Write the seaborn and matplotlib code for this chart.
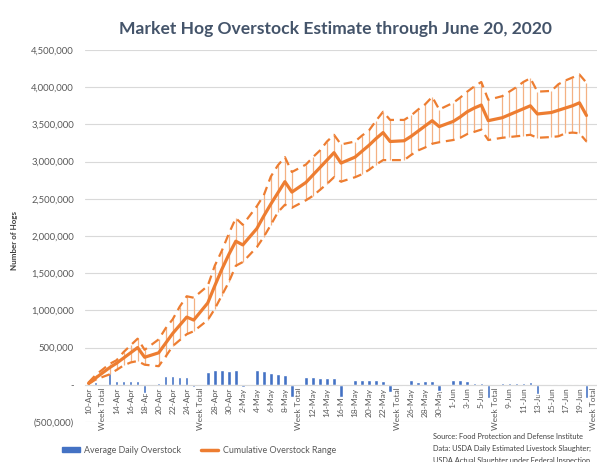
import numpy as np
import pandas as pd
import seaborn as sns
import matplotlib.pyplot as plt
from matplotlib.lines import Line2D
from matplotlib.patches import Patch
from matplotlib.ticker import FuncFormatter, MultipleLocator

nan = np.nan

categories = ["10-Apr", "11-Apr", "Week Total", "13-Apr", "14-Apr", "15-Apr", "16-Apr", "17-Apr", "18-Apr",
              "Week Total", "20-Apr", "21-Apr", "22-Apr", "23-Apr", "24-Apr", "25-Apr",
              "Week Total", "27-Apr", "28-Apr", "29-Apr", "30-Apr", "1-May", "2-May",
              "Week Total", "4-May", "5-May", "6-May", "7-May", "8-May", "9-May",
              "Week Total", "11-May", "12-May", "13-May", "14-May", "15-May", "16-May",
              "Week Total", "18-May", "19-May", "20-May", "21-May", "22-May", "23-May",
              "Week Total", "25-May", "26-May", "27-May", "28-May", "29-May", "30-May",
              "Week Total", "1-Jun", "2-Jun", "3-Jun", "4-Jun", "5-Jun", "6-Jun",
              "Week Total", "8-Jun", "9-Jun", "10-Jun", "11-Jun", "12-Jun", "13-Jun",
              "Week Total", "15-Jun", "16-Jun", "17-Jun", "18-Jun", "19-Jun", "20-Jun",
              "Week Total"]

# thousands of hogs, nan = week total rows (no line point)
cumulative = [20, 90, nan, 230, 290, 360, 430, 500, 370, nan, 430, 560, 690, 800, 910, 870, nan,
              1100, 1330, 1550, 1750, 1930, 1880, nan, 2100, 2270, 2430, 2580, 2730, 2590, nan,
              2720, 2820, 2920, 3020, 3120, 2980, nan, 3060, 3140, 3220, 3310, 3390, 3270, nan,
              3280, 3340, 3410, 3480, 3550, 3470, nan, 3540, 3600, 3670, 3720, 3760, 3550, nan,
              3590, 3630, 3670, 3710, 3750, 3640, nan, 3660, 3690, 3720, 3750, 3790, 3620, nan]

upper = [30, 130, nan, 280, 330, 440, 530, 620, 470, nan, 610, 760, 880, 1050, 1190, 1170, nan,
         1330, 1600, 1800, 2030, 2240, 2150, nan, 2400, 2550, 2800, 2950, 3060, 2860, nan,
         2960, 3060, 3150, 3270, 3360, 3230, nan, 3270, 3350, 3420, 3550, 3670, 3560, nan,
         3560, 3620, 3700, 3770, 3870, 3700, nan, 3790, 3860, 3940, 4010, 4070, 3830, nan,
         3880, 3940, 4000, 4070, 4120, 3940, nan, 3950, 4040, 4090, 4130, 4170, 4060, nan]

lower = [10, 70, nan, 140, 200, 260, 300, 320, 270, nan, 250, 380, 520, 600, 680, 720, nan,
         870, 1020, 1200, 1380, 1600, 1650, nan, 1850, 1990, 2150, 2320, 2420, 2380, nan,
         2480, 2540, 2620, 2700, 2790, 2730, nan, 2790, 2830, 2890, 2960, 3020, 3020, nan,
         3020, 3090, 3150, 3190, 3240, 3260, nan, 3290, 3320, 3370, 3400, 3430, 3290, nan,
         3320, 3330, 3340, 3350, 3360, 3320, nan, 3330, 3340, 3380, 3390, 3380, 3270, nan]

daily_avg = [20, 40, nan, 155, 45, 45, 45, 55, -110, nan, 30, 120, 120, 110, 110, -35, nan,
             170, 200, 205, 190, 200, -35, nan, 200, 190, 160, 150, 135, -170, nan,
             105, 105, 90, 90, 90, -160, nan, 70, 70, 70, 70, 55, -95, nan,
             -10, 70, 35, 45, 55, -90, nan, 65, 65, 45, 25, 25, -180, nan,
             25, 25, 25, 25, 40, -130, nan, 15, 15, 15, 15, 15, -180, nan]

blue = "#4472C4"
orange = "#ED7D31"
grey = "#595959"

df = pd.DataFrame({"pos": np.arange(len(categories)), "label": categories,
                   "cumulative": np.array(cumulative) * 1000, "upper": np.array(upper) * 1000,
                   "lower": np.array(lower) * 1000, "daily": np.array(daily_avg) * 1000})
days = df.dropna(subset=["cumulative"])

sns.set_theme(style="white")
plt.rcParams["font.family"] = ["Lato", "DejaVu Sans"]

fig = plt.figure(figsize=(5.97, 4.62), dpi=100)
ax = fig.add_axes([0.1424, 0.0866, 0.8576, 0.8052])

sns.barplot(data=days, x="pos", y="daily", native_scale=True, color=blue, width=0.5,
            saturation=1, ax=ax, zorder=2)
ax.vlines(days["pos"], days["lower"], days["upper"], color="#F4B183", lw=0.9, zorder=3)
sns.lineplot(data=days, x="pos", y="upper", color=orange, lw=1.6, linestyle=(0, (4, 2.6)), ax=ax, zorder=4)
sns.lineplot(data=days, x="pos", y="lower", color=orange, lw=1.6, linestyle=(0, (4, 2.6)), ax=ax, zorder=4)
sns.lineplot(data=days, x="pos", y="cumulative", color=orange, lw=2.3, ax=ax, zorder=5)

ax.set_xlim(-0.5, len(categories) - 0.5)
ax.set_ylim(-500000, 4500000)
ax.yaxis.set_major_locator(MultipleLocator(500000))


def fmt(v, _):
    if v < 0:
        return "({:,.0f})".format(-v)
    if v == 0:
        return "-"
    return "{:,.0f}".format(v)


ax.yaxis.set_major_formatter(FuncFormatter(fmt))
ax.set_xticks(df["pos"][::2])
ax.set_xticklabels(df["label"][::2])
ax.tick_params(axis="x", labelrotation=90, labelsize=6.0, labelcolor=grey, length=0, pad=2)
ax.tick_params(axis="y", labelsize=6.8, labelcolor=grey, length=0, pad=8)
ax.set_xlabel("")
ax.set_ylabel("")

ax.grid(axis="y", color="#D9D9D9", lw=0.8)
ax.set_axisbelow(True)
for s in ["left", "top", "right"]:
    ax.spines[s].set_visible(False)
ax.spines["bottom"].set_position(("data", 0))
ax.spines["bottom"].set_color("#D9D9D9")
ax.spines["bottom"].set_linewidth(0.8)

fig.text(0.562, 0.937, "Market Hog Overstock Estimate through June 20, 2020",
         ha="center", va="center", fontsize=12.6, fontweight="bold", color="#44546A")
fig.text(0.025, 0.48, "Number of Hogs", rotation=90, ha="center", va="center",
         fontsize=5.8, fontweight="bold", color="#404040")

handles = [Patch(color=blue), Line2D([0], [0], color=orange, lw=2.5)]
fig.legend(handles, ["Average Daily Overstock", "Cumulative Overstock Range"],
           loc="center left", bbox_to_anchor=(0.09, 0.025), ncol=2, frameon=False,
           fontsize=6.4, labelcolor=grey, handlelength=2.0, handleheight=0.45,
           handletextpad=0.5, columnspacing=2.2)

src = ["Source: Food Protection and Defense Institute",
       "Data: USDA Daily Estimated Livestock Slaughter;",
       "USDA Actual Slaughter under Federal Inspection"]
for i, line in enumerate(src):
    fig.text(0.725, 0.055 - i * 0.026, line, ha="left", va="center", fontsize=5.3, color="#404040")

fig.savefig("out.png", dpi=100)
